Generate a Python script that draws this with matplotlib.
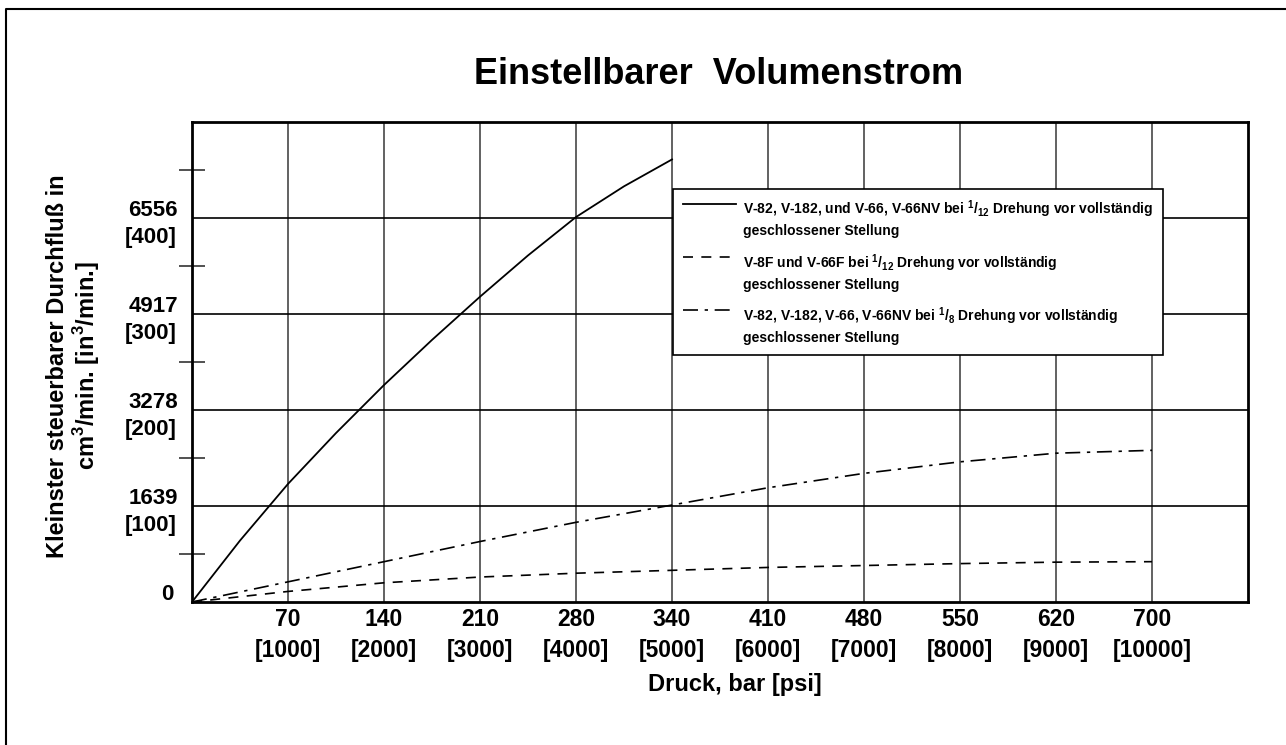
import matplotlib
matplotlib.use("Agg")
import matplotlib.pyplot as plt
import matplotlib.transforms as mtransforms
from matplotlib.lines import Line2D

plt.rcParams['font.family'] = ['Liberation Sans', 'DejaVu Sans']
plt.rcParams['mathtext.fontset'] = 'custom'
plt.rcParams['mathtext.rm'] = 'Liberation Sans:bold'
plt.rcParams['mathtext.bf'] = 'Liberation Sans:bold'

# Druck in psi, Volumenstrom in in3/min
psi_solid = [0, 500, 1000, 1500, 2000, 2500, 3000, 3500, 4000, 4500, 5000]
flow_solid = [0, 64, 123, 176, 226, 273, 318, 361, 401, 433, 461]

psi_long = [0, 1000, 2000, 3000, 4000, 5000, 6000, 7000, 8000, 9000, 10000]
flow_dashed = [0, 11, 20, 26, 30, 33, 36, 38, 40, 41.5, 42]
flow_dashdot = [0, 21, 42, 63, 83, 101, 119, 134, 146, 155, 158]

x_ticks = [1000, 2000, 3000, 4000, 5000, 6000, 7000, 8000, 9000, 10000]
x_bar = ['70', '140', '210', '280', '340', '410', '480', '550', '620', '700']
y_ticks = [0, 100, 200, 300, 400]
y_cm3 = ['0', '1639', '3278', '4917', '6556']

labels = [
    'V-82, V-182, und V-66, V-66NV bei $^{1}$/$_{12}$ Drehung vor vollständig\ngeschlossener Stellung',
    'V-8F und V-66F bei $^{1}$/$_{12}$ Drehung vor vollständig\ngeschlossener Stellung',
    'V-82, V-182, V-66, V-66NV bei $^{1}$/$_{8}$ Drehung vor vollständig\ngeschlossener Stellung',
]

fig = plt.figure(figsize=(12.86, 7.45), dpi=100)
ax = fig.add_axes([192/1286, 1 - 602/745, 1056/1286, 480/745])

# Rahmen oben und links
fig.add_artist(Line2D([6/1286, 6/1286, 1.0], [0.0, 1 - 9/745, 1 - 9/745],
                      transform=fig.transFigure, color='black', lw=1.5))

ax.plot(psi_solid, flow_solid, color='black', lw=1.3, label=labels[0])
ax.plot(psi_long, flow_dashed, color='black', lw=1.2, dashes=(6, 5), label=labels[1])
ax.plot(psi_long, flow_dashdot, color='black', lw=1.2, dashes=(9, 4, 2, 4), label=labels[2])

ax.set_xlim(0, 11000)
ax.set_ylim(0, 500)

for x in x_ticks:
    ax.axvline(x, color='#555555', lw=1.3, zorder=0)
for y in y_ticks[1:]:
    ax.axhline(y, color='black', lw=1.2, zorder=0)

ax.set_xticks(x_ticks)
ax.set_xticklabels([])
ax.set_yticks(y_ticks)
ax.set_yticklabels([])
ax.tick_params(axis='both', which='major', length=0)
ax.set_yticks([50, 150, 250, 350, 450], minor=True)
ax.tick_params(axis='y', which='minor', direction='inout', length=19, width=1.2, color='#333333')
for s in ax.spines.values():
    s.set_linewidth(2)

# Achsenbeschriftung zweizeilig
tx = mtransforms.blended_transform_factory(ax.transData, ax.transAxes)
for x, b in zip(x_ticks, x_bar):
    ax.text(x, 0, b, transform=mtransforms.offset_copy(tx, fig, y=-17, units='dots'),
            ha='center', va='center', fontsize=16.5, fontweight='bold')
    ax.text(x, 0, '[%d]' % x, transform=mtransforms.offset_copy(tx, fig, y=-48, units='dots'),
            ha='center', va='center', fontsize=16.5, fontweight='bold')

ty = mtransforms.blended_transform_factory(ax.transAxes, ax.transData)
for y, c in zip(y_ticks, y_cm3):
    dx = -19 if y == 0 else -14
    ax.text(0, y, c, transform=mtransforms.offset_copy(ty, fig, x=dx, y=7, units='dots'),
            ha='right', va='center', fontsize=16, fontweight='bold')
    if y > 0:
        ax.text(0, y, '[%d]' % y, transform=mtransforms.offset_copy(ty, fig, x=-15, y=-20, units='dots'),
                ha='right', va='center', fontsize=16, fontweight='bold')

fig.text(735/1286, 1 - 685/745, 'Druck, bar [psi]', ha='center', va='center',
         fontsize=17, fontweight='bold')
fig.text(74/1286, 1 - 366/745, 'Kleinster steuerbarer Durchfluß in\ncm$^{3}$/min. [in$^{3}$/min.]',
         rotation=90, ha='center', va='center', fontsize=17, fontweight='bold',
         multialignment='center', linespacing=1.05)
fig.text(719/1286, 1 - 75/745, 'Einstellbarer  Volumenstrom', ha='center', va='center',
         fontsize=26, fontweight='bold')

leg = ax.legend(loc='upper left', bbox_to_anchor=(481/1056, 1 - (189-122)/480),
                prop={'weight': 'bold', 'size': 10},
                frameon=True, fancybox=False,
                edgecolor='black', framealpha=1, handlelength=3.8, handletextpad=0.55,
                labelspacing=1.0, borderpad=0.7, borderaxespad=0)
leg.get_frame().set_linewidth(1.2)
for t in leg.get_texts():
    t.set_linespacing(1.35)
# Linienmuster auf Höhe der ersten Textzeile
for col in leg._legend_handle_box.get_children():
    for row in col.get_children():
        row.align = 'top'

fig.savefig('out.png', dpi=100)
